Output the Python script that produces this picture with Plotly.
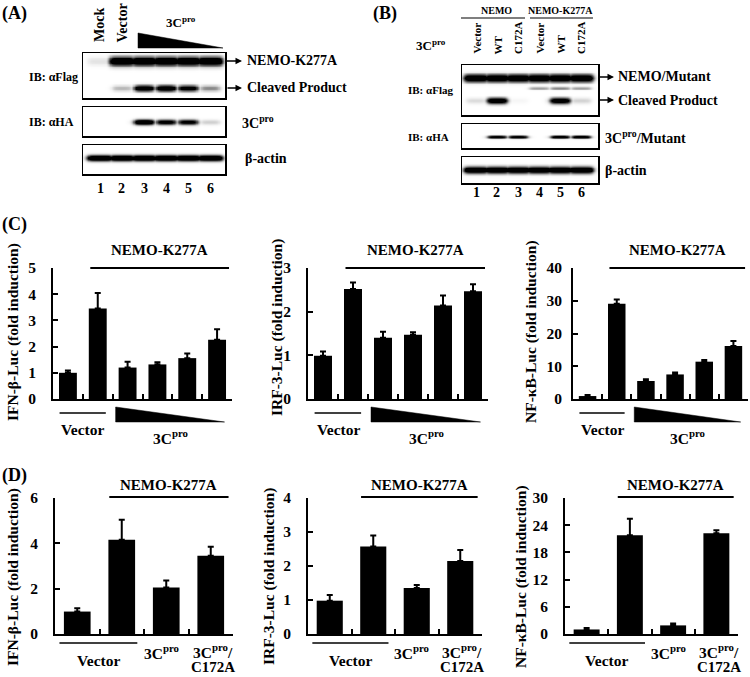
import numpy as np
import plotly.graph_objects as go

W, H = 750, 677
FONT = "Liberation Serif"

# ---------------- data ----------------
# Panel C (dose series): Vector, NEMO-K277A + vector, NEMO-K277A + 3Cpro (4 decreasing doses)
ifn_c = [1.00, 3.45, 1.20, 1.32, 1.56, 2.26]
ifn_c_err = [0.09, 0.60, 0.22, 0.08, 0.18, 0.40]
irf_c = [0.99, 2.52, 1.40, 1.47, 2.14, 2.47]
irf_c_err = [0.10, 0.15, 0.14, 0.06, 0.23, 0.16]
nfkb_c = [0.9, 29.1, 5.5, 7.5, 11.4, 16.2]
nfkb_c_err = [0.3, 1.3, 0.5, 0.6, 0.5, 1.5]
# Panel D: Vector, NEMO-K277A + vector, + 3Cpro, + 3Cpro/C172A
ifn_d = [0.99, 4.16, 2.05, 3.45]
ifn_d_err = [0.15, 0.88, 0.31, 0.40]
irf_d = [0.98, 2.57, 1.35, 2.15]
irf_d_err = [0.17, 0.33, 0.09, 0.32]
nfkb_d = [1.0, 21.8, 1.9, 22.2]
nfkb_d_err = [0.3, 3.6, 0.4, 0.7]

lane_numbers = ["1", "2", "3", "4", "5", "6"]
# Blot band intensities per lane (0..1)
a_nemo = [0.06, 1, 1, 1, 1, 1]
a_cleaved = [0.0, 0.15, 0.95, 1.0, 0.8, 0.25]
a_3c = [0.0, 0.0, 1.0, 0.75, 0.72, 0.1]
a_actin = [1, 1, 1, 1, 1, 1]
b_nemo = [1, 1, 1, 1, 1, 1]
b_smear = [0.0, 0.0, 0.0, 0.2, 0.25, 0.2]
b_cleaved = [0.08, 1.0, 0.02, 0.0, 0.95, 0.1]
b_3c = [0.0, 0.8, 0.8, 0.0, 0.85, 0.85]
b_actin = [1, 1, 1, 1, 1, 1]
b_lane_labels = ["Vector", "WT", "C172A", "Vector", "WT", "C172A"]


def px(x):
    return x / W


def py(y):
    return 1 - y / H


fig = go.Figure()
layout_axes = {}
annotations = []
shapes = []


def axname(i):
    return ("x" if i == 1 else f"x{i}"), ("y" if i == 1 else f"y{i}")


def lkey(i):
    return ("xaxis" if i == 1 else f"xaxis{i}"), ("yaxis" if i == 1 else f"yaxis{i}")


def txt(x, y, s, size=14, xanchor="center", yanchor="middle", angle=0, xref="paper"):
    annotations.append(dict(x=x, y=y, xref=xref, yref="paper", text=s, showarrow=False,
                            xanchor=xanchor, yanchor=yanchor, textangle=angle,
                            font=dict(family=FONT, size=size, color="black", weight="bold")))


# ---------------- bar charts ----------------
charts = [
    dict(vals=ifn_c, errs=ifn_c_err, xd=(53, 232), yd=(268, 399), ymax=5, dtick=1,
         title="IFN-β-Luc (fold induction)", tx=13, ty=332, standoff=12, row="C"),
    dict(vals=irf_c, errs=irf_c_err, xd=(308, 488), yd=(268, 399), ymax=3, dtick=1,
         title="IRF-3-Luc (fold induction)", tx=277, ty=328, standoff=12, row="C"),
    dict(vals=nfkb_c, errs=nfkb_c_err, xd=(573, 748), yd=(268, 399), ymax=40, dtick=10,
         title="NF-κB-Luc (fold induction)", tx=531, ty=332, standoff=6, row="C"),
    dict(vals=ifn_d, errs=ifn_d_err, xd=(55, 233), yd=(498, 634), ymax=6, dtick=2,
         title="IFN-β-Luc (fold induction)", tx=13, ty=577, standoff=12, row="D"),
    dict(vals=irf_d, errs=irf_d_err, xd=(308, 482), yd=(498, 634), ymax=4, dtick=1,
         title="IRF-3-Luc (fold induction)", tx=269, ty=577, standoff=12, row="D"),
    dict(vals=nfkb_d, errs=nfkb_d_err, xd=(565, 738), yd=(498, 634), ymax=30, dtick=6,
         title="NF-κB-Luc (fold induction)", tx=521, ty=577, standoff=12, row="D"),
]

for i, c in enumerate(charts, start=1):
    xa, ya = axname(i)
    xk, yk = lkey(i)
    n = len(c["vals"])
    fig.add_trace(go.Bar(x=list(range(n)), y=c["vals"], width=0.6,
                         marker=dict(color="black", line=dict(width=0)),
                         error_y=dict(type="data", symmetric=False, array=c["errs"],
                                      arrayminus=[0] * n, color="black", thickness=2, width=3),
                         xaxis=xa, yaxis=ya, showlegend=False))
    layout_axes[xk] = dict(domain=[px(c["xd"][0]), px(c["xd"][1])], anchor=ya,
                           range=[-0.5, n - 0.5], showline=True, linecolor="black", linewidth=2,
                           ticks="inside", ticklen=5, tickwidth=2, tickcolor="black",
                           tickmode="array", tickvals=[k + 0.5 for k in range(n)],
                           showticklabels=False, showgrid=False, zeroline=False,
                           fixedrange=True, automargin=False)
    layout_axes[yk] = dict(domain=[py(c["yd"][1]), py(c["yd"][0])], anchor=xa,
                           range=[0, c["ymax"]], dtick=c["dtick"], tick0=0,
                           showline=True, linecolor="black", linewidth=2,
                           ticks="inside", ticklen=5, tickwidth=2, tickcolor="black",
                           tickfont=dict(family=FONT, size=15.5, color="black", weight="bold"),
                           ticklabelstandoff=c["standoff"],
                           showgrid=False, zeroline=False, fixedrange=True, automargin=False)
    txt(px(c["tx"]), py(c["ty"]), c["title"], size=15.5, angle=-90)

    # NEMO-K277A bracket line and label
    if c["row"] == "C":
        l0, l1 = 0.75, 5.4
        shapes.append(dict(type="line", xref=xa, yref="paper", x0=l0, x1=l1,
                           y0=py(c["yd"][0]), y1=py(c["yd"][0]), line=dict(color="black", width=2)))
        txt((l0 + l1) / 2, py(250), "NEMO-K277A", size=15, xref=xa)
        # vector line + wedge
        shapes.append(dict(type="line", xref=xa, yref="paper", x0=-0.28, x1=1.27,
                           y0=py(413), y1=py(413), line=dict(color="black", width=1.5)))
        shapes.append(dict(type="path", xref=xa, yref="paper",
                           path=f"M 1.6,{py(407)} L 1.6,{py(422)} L 5.25,{py(422)} Z",
                           fillcolor="black", line=dict(color="black", width=0.5)))
        txt(0.5, py(429), "Vector", size=15.5, xref=xa)
        txt(3.45, py(437), "3C<sup>pro</sup>", size=15.5, xref=xa)
    else:
        l0, l1 = 0.72, 3.4
        shapes.append(dict(type="line", xref=xa, yref="paper", x0=l0, x1=l1,
                           y0=py(c["yd"][0] - 1), y1=py(c["yd"][0] - 1), line=dict(color="black", width=2)))
        txt((l0 + l1) / 2, py(485), "NEMO-K277A", size=15, xref=xa)
        shapes.append(dict(type="line", xref=xa, yref="paper", x0=-0.4, x1=1.35,
                           y0=py(643), y1=py(643), line=dict(color="black", width=1.5)))
        txt(0.47, py(660), "Vector", size=15.5, xref=xa)
        txt(1.9, py(652), "3C<sup>pro</sup>", size=15.5, xref=xa)
        txt(3.05, py(651), "3C<sup>pro</sup>/", size=15.5, xref=xa)
        txt(3.05, py(667), "C172A", size=15, xref=xa)


# ---------------- blots ----------------
def blot_z(x0, x1, bands, nx=260, ny=60):
    xs = np.linspace(x0, x1, nx)
    ys = np.linspace(0, 1, ny)
    z = np.zeros((ny, nx))
    for yc, sy, w, inten in bands:
        yprof = np.exp(-((ys - yc) / sy) ** 2)
        for li, I in enumerate(inten):
            if I <= 0:
                continue
            xprof = 1 / (1 + np.exp((np.abs(xs - (li + 1)) - w) / 0.07))
            z = np.maximum(z, I * 1.6 * np.outer(yprof, xprof))
    return xs, ys, np.clip(z, 0, 1)


# (box px: x0, x1, y0, y1), lane spacing/lane1 centre in px, bands
a_lane1, a_sp = 100, 22
b_lane1, b_sp = 476, 21
blots = [
    ((83, 225, 53, 98), a_lane1, a_sp, [(0.18, 0.095, 0.55, a_nemo), (0.78, 0.065, 0.42, a_cleaved)]),
    ((83, 225, 107, 136), a_lane1, a_sp, [(0.52, 0.085, 0.42, a_3c)]),
    ((83, 225, 145, 174), a_lane1, a_sp, [(0.45, 0.095, 0.56, a_actin)]),
    ((462, 598, 65, 115), b_lane1, b_sp, [(0.26, 0.07, 0.56, b_nemo), (0.46, 0.03, 0.45, b_smear),
                                          (0.71, 0.055, 0.45, b_cleaved)]),
    ((462, 598, 124, 148), b_lane1, b_sp, [(0.54, 0.06, 0.42, b_3c)]),
    ((462, 598, 157, 183), b_lane1, b_sp, [(0.5, 0.12, 0.56, b_actin)]),
]
for j, (box, l1, sp, bands) in enumerate(blots, start=7):
    xa, ya = axname(j)
    xk, yk = lkey(j)
    bx0, bx1, by0, by1 = box
    xr0 = 1 + (bx0 - l1) / sp
    xr1 = 1 + (bx1 - l1) / sp
    xs, ys, z = blot_z(xr0, xr1, bands)
    fig.add_trace(go.Heatmap(x=xs, y=ys, z=z, zmin=0, zmax=1, zsmooth="best",
                             colorscale=[[0, "#ffffff"], [0.5, "#6a6a6a"], [1, "#000000"]],
                             showscale=False, hoverinfo="skip", xaxis=xa, yaxis=ya))
    layout_axes[xk] = dict(domain=[px(bx0), px(bx1)], anchor=ya, range=[xr0, xr1],
                           showline=True, mirror=True, linecolor="black", linewidth=1.5,
                           showticklabels=False, ticks="", showgrid=False, zeroline=False,
                           fixedrange=True, automargin=False)
    layout_axes[yk] = dict(domain=[py(by1), py(by0)], anchor=xa, range=[1, 0],
                           showline=True, mirror=True, linecolor="black", linewidth=1.5,
                           showticklabels=False, ticks="", showgrid=False, zeroline=False,
                           fixedrange=True, automargin=False)


def arrow(x_tail, x_head, y):
    annotations.append(dict(x=px(x_head), y=py(y), xref="paper", yref="paper", text="",
                            showarrow=True, ax=-(x_head - x_tail), ay=0, arrowhead=2,
                            arrowsize=1, arrowwidth=1.3, arrowcolor="black"))


# Panel A texts
txt(px(0), py(13), "(A)", size=18, xanchor="left")
txt(px(100), py(44), "Mock", size=14, angle=-90, yanchor="bottom")
txt(px(122), py(44), "Vector", size=14, angle=-90, yanchor="bottom")
txt(px(181), py(22), "3C<sup>pro</sup>", size=13)
shapes.append(dict(type="path", xref="paper", yref="paper",
                   path=f"M {px(138)},{py(33)} L {px(138)},{py(48)} L {px(223)},{py(48)} Z",
                   fillcolor="black", line=dict(color="black", width=0.5)))
txt(px(27), py(77), "IB: αFlag", size=12, xanchor="left")
txt(px(27), py(122), "IB: αHA", size=12, xanchor="left")
arrow(225, 242, 61)
txt(px(245), py(61), "NEMO-K277A", size=14, xanchor="left")
arrow(226, 242, 88)
txt(px(245), py(88), "Cleaved Product", size=14, xanchor="left")
txt(px(240), py(122), "3C<sup>pro</sup>", size=14, xanchor="left")
txt(px(243), py(158), "β-actin", size=14, xanchor="left")
for k, lab in enumerate(lane_numbers):
    txt(px(a_lane1 + a_sp * k), py(188), lab, size=14)

# Panel B texts
txt(px(371), py(13), "(B)", size=18, xanchor="left")
txt(px(496), py(10), "NEMO", size=10)
txt(px(560), py(10), "NEMO-K277A", size=10)
shapes.append(dict(type="line", xref="paper", yref="paper", x0=px(461), x1=px(525),
                   y0=py(18), y1=py(18), line=dict(color="black", width=1.2)))
shapes.append(dict(type="line", xref="paper", yref="paper", x0=px(530), x1=px(593),
                   y0=py(18), y1=py(18), line=dict(color="black", width=1.2)))
for k, lab in enumerate(b_lane_labels):
    txt(px(b_lane1 + b_sp * k), py(56), lab, size=11, angle=-90, yanchor="bottom")
txt(px(414), py(45), "3C<sup>pro</sup>", size=13, xanchor="left")
txt(px(406), py(90), "IB: αFlag", size=11, xanchor="left")
txt(px(406), py(137), "IB: αHA", size=11, xanchor="left")
arrow(598, 614, 77)
txt(px(616), py(77), "NEMO/Mutant", size=14, xanchor="left")
arrow(598, 614, 100)
txt(px(616), py(100), "Cleaved Product", size=14, xanchor="left")
txt(px(603), py(137), "3C<sup>pro</sup>/Mutant", size=14, xanchor="left")
txt(px(603), py(170), "β-actin", size=14, xanchor="left")
for k, lab in enumerate(lane_numbers):
    txt(px(b_lane1 + b_sp * k), py(193), lab, size=14)

# Panel C, D letters
txt(px(0), py(225), "(C)", size=18, xanchor="left")
txt(px(0), py(475), "(D)", size=18, xanchor="left")

fig.update_layout(width=W, height=H, margin=dict(l=0, r=0, t=0, b=0),
                  paper_bgcolor="white", plot_bgcolor="rgba(0,0,0,0)",
                  template="none", showlegend=False, bargap=0.4,
                  annotations=annotations, shapes=shapes, **layout_axes)
fig.write_html("out.html", config={"displayModeBar": False, "staticPlot": True},
               post_script="document.body.style.margin='0';document.body.style.padding='0';")
